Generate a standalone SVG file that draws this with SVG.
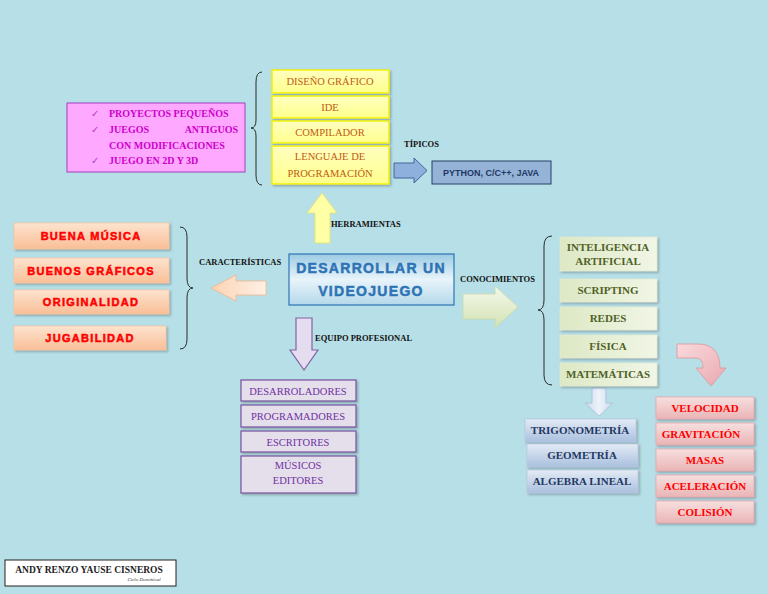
<svg xmlns="http://www.w3.org/2000/svg" width="768" height="594" viewBox="0 0 768 594">
<defs>
<linearGradient id="gY" x1="0" y1="0" x2="0" y2="1"><stop offset="0" stop-color="#ffffc0"/><stop offset="1" stop-color="#ffff8c"/></linearGradient>
<linearGradient id="gO" x1="0" y1="0" x2="0" y2="1"><stop offset="0" stop-color="#fde3cf"/><stop offset="1" stop-color="#f9bf97"/></linearGradient>
<linearGradient id="gG" x1="0" y1="0" x2="1" y2="0"><stop offset="0" stop-color="#dde8c4"/><stop offset="1" stop-color="#f1f6e6"/></linearGradient>
<linearGradient id="gB" x1="0" y1="0" x2="0" y2="1"><stop offset="0" stop-color="#e4ebf5"/><stop offset="1" stop-color="#a9c0de"/></linearGradient>
<linearGradient id="gR" x1="0" y1="0" x2="0" y2="1"><stop offset="0" stop-color="#f7dfdf"/><stop offset="1" stop-color="#eab5b6"/></linearGradient>
<linearGradient id="gC" x1="0" y1="0" x2="0" y2="1"><stop offset="0" stop-color="#9ccbe3"/><stop offset="0.5" stop-color="#e8f4fa"/><stop offset="1" stop-color="#b4d8ea"/></linearGradient>
<linearGradient id="gAO" x1="0" y1="0" x2="1" y2="0"><stop offset="0" stop-color="#fbd2b4"/><stop offset="1" stop-color="#fff1e6"/></linearGradient>
<linearGradient id="gAG" x1="0" y1="0" x2="0" y2="1"><stop offset="0" stop-color="#f4f8ea"/><stop offset="1" stop-color="#d3e2b4"/></linearGradient>
<linearGradient id="gAB" x1="0" y1="0" x2="1" y2="0"><stop offset="0" stop-color="#c9d9ee"/><stop offset="0.5" stop-color="#eef3fa"/><stop offset="1" stop-color="#c9d9ee"/></linearGradient>
<linearGradient id="gAP" x1="0" y1="0" x2="1" y2="1"><stop offset="0" stop-color="#f9dadd"/><stop offset="1" stop-color="#e9a9b0"/></linearGradient>
<filter id="sh" x="-10%" y="-20%" width="130%" height="160%"><feDropShadow dx="1.5" dy="1.5" stdDeviation="0.8" flood-color="#6a7f86" flood-opacity="0.6"/></filter>
</defs>
<style>
.ser{font-family:"Liberation Serif","Times New Roman",serif}
.san{font-family:"Liberation Sans",Arial,sans-serif}
.lab{font-family:"Liberation Serif",serif;font-weight:bold;font-size:8.5px;fill:#111}
.yb{fill:url(#gY);stroke:#f2f200;stroke-width:1.5;filter:url(#sh)}
.yt{font-family:"Liberation Serif",serif;font-size:10.5px;fill:#bf5a14;text-anchor:middle}
.ob{fill:url(#gO);stroke:#f7c7a3;stroke-width:0.8;filter:url(#sh)}
.ot{font-family:"Liberation Sans",Arial,sans-serif;font-weight:bold;font-size:11px;fill:#ff0000;stroke:#ff0000;stroke-width:0.5;text-anchor:middle;letter-spacing:1.3px}
.pb{fill:#e5dfec;stroke:#7e5ca3;stroke-width:1.3;filter:url(#sh)}
.pt{font-family:"Liberation Serif",serif;font-size:10.5px;fill:#7030a0;text-anchor:middle}
.gb{fill:url(#gG);stroke:#e3ecd2;stroke-width:0.8;filter:url(#sh)}
.gt{font-family:"Liberation Serif",serif;font-weight:bold;font-size:11px;fill:#4f6228;text-anchor:middle}
.bb{fill:url(#gB);stroke:#b8cbe4;stroke-width:0.8;filter:url(#sh)}
.bt{font-family:"Liberation Serif",serif;font-weight:bold;font-size:11px;fill:#1f3864;text-anchor:middle}
.rb{fill:url(#gR);stroke:#e3a9aa;stroke-width:0.8;filter:url(#sh)}
.rt{font-family:"Liberation Serif",serif;font-weight:bold;font-size:11px;fill:#ff0000;text-anchor:middle}
.br{fill:none;stroke:#2b2b2b;stroke-width:1}
</style>
<rect x="0" y="0" width="768" height="594" fill="#b7dfe7"/>

<g id="connectors">
<path class="br" d="M262,72 Q256,72 256,82 L256,120 Q256,128 251,128 Q256,128 256,136 L256,175 Q256,185 262,185"/>
<path class="br" d="M180,227 Q187,227 187,237 L187,278 Q187,288 193,288 Q187,288 187,298 L187,339 Q187,349 180,349"/>
<path class="br" d="M552,236 Q544,236 544,246 L544,300 Q544,310 538,310 Q544,310 544,320 L544,375 Q544,385 552,385"/>
<path d="M394,163 L414,163 L414,158 L427,170.5 L414,183 L414,178 L394,178 Z" fill="#8eb0dc" stroke="#41679a" stroke-width="1"/>
<path d="M315,243 L315,213 L307,213 L322,193 L337,213 L330,213 L330,243 Z" fill="#ffffa6" stroke="#e4e47a" stroke-width="1"/>
<path d="M266,281 L236,281 L236,275 L211,288 L236,301 L236,295 L266,295 Z" fill="url(#gAO)" stroke="#f2b48c" stroke-width="0.8"/>
<path d="M296,318 L312,318 L312,350 L318,350 L304,370 L290,350 L296,350 Z" fill="#e6dcef" stroke="#8064a2" stroke-width="1.2"/>
<path d="M463,294 L495,294 L495,286 L518,307 L495,328 L495,319 L463,319 Z" fill="url(#gAG)" stroke="#c8d9a8" stroke-width="0.8"/>
<path d="M592,388 L606,388 L606,403 L613,403 L599,416 L585,403 L592,403 Z" fill="url(#gAB)" stroke="#a6bcd9" stroke-width="0.8"/>
<path d="M677,344 L698,344 Q720,344 720,368 L726,368 L711,386 L696,368 L703,368 Q703,358 696,358 L677,358 Z" fill="url(#gAP)" stroke="#d9959a" stroke-width="0.8"/>
<text class="lab" x="404" y="147">TÍPICOS</text>
<text class="lab" x="331" y="227">HERRAMIENTAS</text>
<text class="lab" x="199" y="265" font-size="8">CARACTERÍSTICAS</text>
<text class="lab" x="315" y="341">EQUIPO PROFESIONAL</text>
<text class="lab" x="460" y="282" font-size="8">CONOCIMIENTOS</text>
</g>

<g id="n-pink">
<rect x="67" y="103" width="178" height="69" fill="#ffa8ff" stroke="#a040c0" stroke-width="1"/>
<g class="ser" font-weight="bold" font-size="10px" fill="#cc00cc">
<text x="91" y="117" font-weight="normal" fill="#b040c0">✓</text>
<text x="109" y="117">PROYECTOS PEQUEÑOS</text>
<text x="91" y="133" font-weight="normal" fill="#b040c0">✓</text>
<text x="109" y="133">JUEGOS</text>
<text x="238" y="133" text-anchor="end">ANTIGUOS</text>
<text x="109" y="149">CON MODIFICACIONES</text>
<text x="91" y="164" font-weight="normal" fill="#b040c0">✓</text>
<text x="109" y="164">JUEGO EN 2D Y 3D</text>
</g>
</g>

<g id="n-diseno"><rect class="yb" x="272" y="70" width="117" height="23"/><text class="yt" x="330" y="85">DISEÑO GRÁFICO</text></g>
<g id="n-ide"><rect class="yb" x="272" y="96" width="117" height="22"/><text class="yt" x="330" y="111">IDE</text></g>
<g id="n-compilador"><rect class="yb" x="272" y="121" width="117" height="22"/><text class="yt" x="330" y="136">COMPILADOR</text></g>
<g id="n-lenguaje"><rect class="yb" x="272" y="146" width="117" height="38"/><text class="yt" x="330" y="160">LENGUAJE DE</text><text class="yt" x="330" y="177">PROGRAMACIÓN</text></g>

<g id="n-python"><rect x="432" y="161" width="119" height="23" fill="#95b3d7" stroke="#2a3f66" stroke-width="1"/><text class="san" x="491" y="176" font-size="9" font-weight="bold" fill="#1f3864" text-anchor="middle">PYTHON, C/C++, JAVA</text></g>

<g id="n-central"><rect x="289" y="254" width="165" height="51" fill="url(#gC)" stroke="#2e75b6" stroke-width="1.2"/>
<text class="san" x="371" y="273" font-size="14" font-weight="bold" fill="#2e74b5" stroke="#2e74b5" stroke-width="0.5" text-anchor="middle" letter-spacing="1.3">DESARROLLAR UN</text>
<text class="san" x="371" y="296" font-size="14" font-weight="bold" fill="#2e74b5" stroke="#2e74b5" stroke-width="0.5" text-anchor="middle" letter-spacing="1.3">VIDEOJUEGO</text></g>

<g id="n-musica"><rect class="ob" x="14" y="223" width="155" height="26"/><text class="ot" x="91" y="240">BUENA MÚSICA</text></g>
<g id="n-graficos"><rect class="ob" x="14" y="258" width="155" height="25"/><text class="ot" x="91" y="275">BUENOS GRÁFICOS</text></g>
<g id="n-originalidad"><rect class="ob" x="14" y="290" width="155" height="24"/><text class="ot" x="91" y="306">ORIGINALIDAD</text></g>
<g id="n-jugabilidad"><rect class="ob" x="14" y="326" width="152" height="24"/><text class="ot" x="90" y="342">JUGABILIDAD</text></g>

<g id="n-desarroladores"><rect class="pb" x="241" y="380" width="115" height="21"/><text class="pt" x="298" y="394.5">DESARROLADORES</text></g>
<g id="n-programadores"><rect class="pb" x="241" y="405" width="115" height="22"/><text class="pt" x="298" y="420">PROGRAMADORES</text></g>
<g id="n-escritores"><rect class="pb" x="241" y="431" width="115" height="21"/><text class="pt" x="298" y="445.5">ESCRITORES</text></g>
<g id="n-musicos"><rect class="pb" x="241" y="456" width="115" height="37"/><text class="pt" x="298" y="469">MÚSICOS</text><text class="pt" x="298" y="484">EDITORES</text></g>

<g id="n-ia"><rect class="gb" x="560" y="237" width="97" height="34"/><text class="gt" x="608" y="251">INTELIGENCIA</text><text class="gt" x="608" y="265">ARTIFICIAL</text></g>
<g id="n-scripting"><rect class="gb" x="560" y="279" width="97" height="23"/><text class="gt" x="608" y="294">SCRIPTING</text></g>
<g id="n-redes"><rect class="gb" x="560" y="307" width="97" height="23"/><text class="gt" x="608" y="322">REDES</text></g>
<g id="n-fisica"><rect class="gb" x="560" y="335" width="97" height="23"/><text class="gt" x="608" y="350">FÍSICA</text></g>
<g id="n-matematicas"><rect class="gb" x="560" y="363" width="97" height="23"/><text class="gt" x="608" y="378">MATEMÁTICAS</text></g>

<g id="n-trigonometria"><rect class="bb" x="525" y="419" width="111" height="23"/><text class="bt" x="580" y="434">TRIGONOMETRÍA</text></g>
<g id="n-geometria"><rect class="bb" x="527" y="444" width="111" height="23"/><text class="bt" x="582" y="459">GEOMETRÍA</text></g>
<g id="n-algebra"><rect class="bb" x="527" y="470" width="111" height="23"/><text class="bt" x="582" y="485">ALGEBRA LINEAL</text></g>

<g id="n-velocidad"><rect class="rb" x="656" y="397" width="98" height="22"/><text class="rt" x="705" y="412">VELOCIDAD</text></g>
<g id="n-gravitacion"><rect class="rb" x="656" y="423" width="98" height="22"/><text class="rt" x="701" y="438">GRAVITACIÓN</text></g>
<g id="n-masas"><rect class="rb" x="656" y="449" width="98" height="22"/><text class="rt" x="705" y="464">MASAS</text></g>
<g id="n-aceleracion"><rect class="rb" x="656" y="475" width="98" height="22"/><text class="rt" x="705" y="490">ACELERACIÓN</text></g>
<g id="n-colision"><rect class="rb" x="656" y="501" width="98" height="22"/><text class="rt" x="705" y="516">COLISIÓN</text></g>

<g id="n-autor"><rect x="5" y="560" width="171" height="26" fill="#ffffff" stroke="#222" stroke-width="1"/>
<text class="ser" x="89" y="573" font-size="9.5" font-weight="bold" fill="#222" text-anchor="middle">ANDY RENZO YAUSE CISNEROS</text>
<text class="ser" x="144" y="581" font-size="5" font-style="italic" fill="#333" text-anchor="middle">Ciclo Dominical</text></g>
</svg>
